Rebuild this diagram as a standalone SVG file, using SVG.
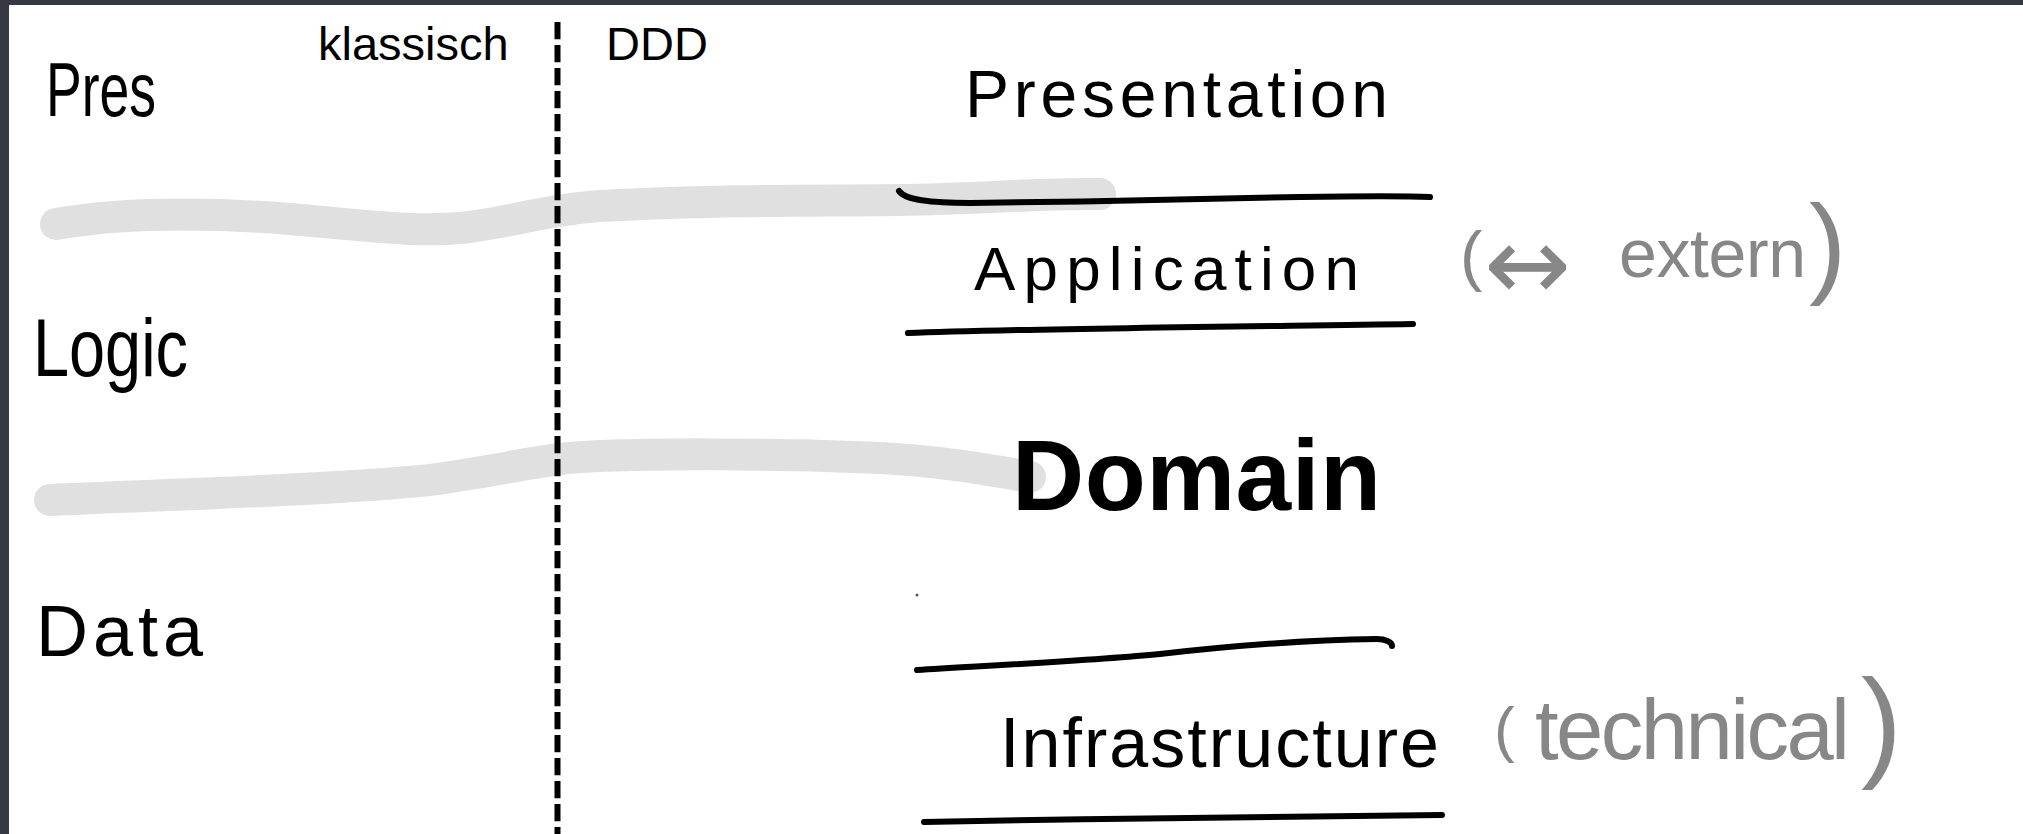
<svg xmlns="http://www.w3.org/2000/svg" width="2023" height="834" viewBox="0 0 2023 834">
  <style>
    .hand { font-family: "Liberation Sans", Arial, sans-serif; fill: #000; }
    .bold { font-weight: bold; }
    .note { font-family: "Liberation Sans", "DejaVu Sans", sans-serif; fill: #878787; }
    .arrow { font-family: "DejaVu Sans", "Liberation Sans", sans-serif; }
    .head { font-family: "Liberation Sans", Arial, sans-serif; font-size: 47px; fill: #000; }
    .marker { fill: none; stroke: #e0e0e0; stroke-width: 32; stroke-linecap: round; stroke-linejoin: round; }
    .rule { fill: none; stroke: #000; stroke-width: 6; stroke-linecap: round; stroke-linejoin: round; }
    .divider { fill: none; stroke: #000; stroke-width: 6; stroke-dasharray: 17.3 5.7; }
    .frame { fill: #363941; }
  </style>

  <!-- canvas and window frame -->
  <rect width="2023" height="834" fill="#fff"/>
  <rect class="frame" x="0" y="0" width="2023" height="5"/>
  <rect class="frame" x="0" y="0" width="9" height="834"/>

  <!-- connectors: highlighter bands mapping old layers onto new ones, column divider, layer rules -->
  <g id="connectors">
    <path id="band-pres-logic" class="marker" d="M56,224 C120,213 200,212 290,219 C370,226 420,233 470,227 C520,220 545,210 600,206 C700,200 800,201 900,200 C980,199 1040,193 1100,194"/>
    <path id="band-logic-data" class="marker" d="M50,500 C150,495 300,492 420,481 C480,474 520,464 560,459 C620,452 800,454 880,458 C940,461 990,470 1030,477"/>
    <line id="divider" class="divider" x1="557.5" y1="22" x2="557.5" y2="834"/>
    <path id="rule-presentation" class="rule" d="M899,191 C905,200 930,203 970,203 C1080,202 1200,199 1300,197 C1360,196 1410,196 1430,197"/>
    <path id="rule-application" class="rule" d="M908,333 C1000,329 1200,327 1413,324"/>
    <path id="rule-infra-top" class="rule" d="M917,670 C1000,665 1100,660 1160,654 C1230,646 1300,640 1377,639 C1385,639 1392,642 1392,646"/>
    <path id="rule-infra-bottom" class="rule" d="M924,822 C1100,818 1300,817 1442,815"/>
    <circle cx="917" cy="595" r="1.5" fill="#555"/>
  </g>

  <!-- column headings -->
  <g id="heading-classic"><text class="head" x="318" y="60">klassisch</text></g>
  <g id="heading-ddd"><text class="head" x="606" y="60">DDD</text></g>

  <!-- classic layers -->
  <g id="classic-pres">
    <text class="hand" x="46" y="116" font-size="76" textLength="110" lengthAdjust="spacingAndGlyphs">Pres</text>
  </g>
  <g id="classic-logic">
    <text class="hand" x="33" y="376" font-size="82" textLength="155" lengthAdjust="spacingAndGlyphs">Logic</text>
  </g>
  <g id="classic-data">
    <text class="hand" x="36" y="656" font-size="72" textLength="167">Data</text>
  </g>

  <!-- DDD layers -->
  <g id="ddd-presentation">
    <text class="hand" x="965" y="117" font-size="66" textLength="423">Presentation</text>
  </g>
  <g id="ddd-application">
    <text class="hand" x="974" y="290" font-size="62" textLength="385">Application</text>
    <text class="note">
      <tspan x="1460" y="278" font-size="67">(</tspan>
      <tspan class="arrow" x="1484" y="300" font-size="104">↔</tspan>
      <tspan x="1619" y="277" font-size="68" textLength="187">extern</tspan>
      <tspan x="1809" y="283" font-size="112">)</tspan>
    </text>
  </g>
  <g id="ddd-domain">
    <text class="hand bold" x="1012" y="510" font-size="100" textLength="369">Domain</text>
  </g>
  <g id="ddd-infrastructure">
    <text class="hand" x="1000" y="767" font-size="70" textLength="439">Infrastructure</text>
    <text class="note">
      <tspan x="1494" y="750" font-size="62">(</tspan>
      <tspan x="1535" y="759" font-size="85" textLength="315">technical</tspan>
      <tspan x="1861" y="765" font-size="123">)</tspan>
    </text>
  </g>
</svg>
